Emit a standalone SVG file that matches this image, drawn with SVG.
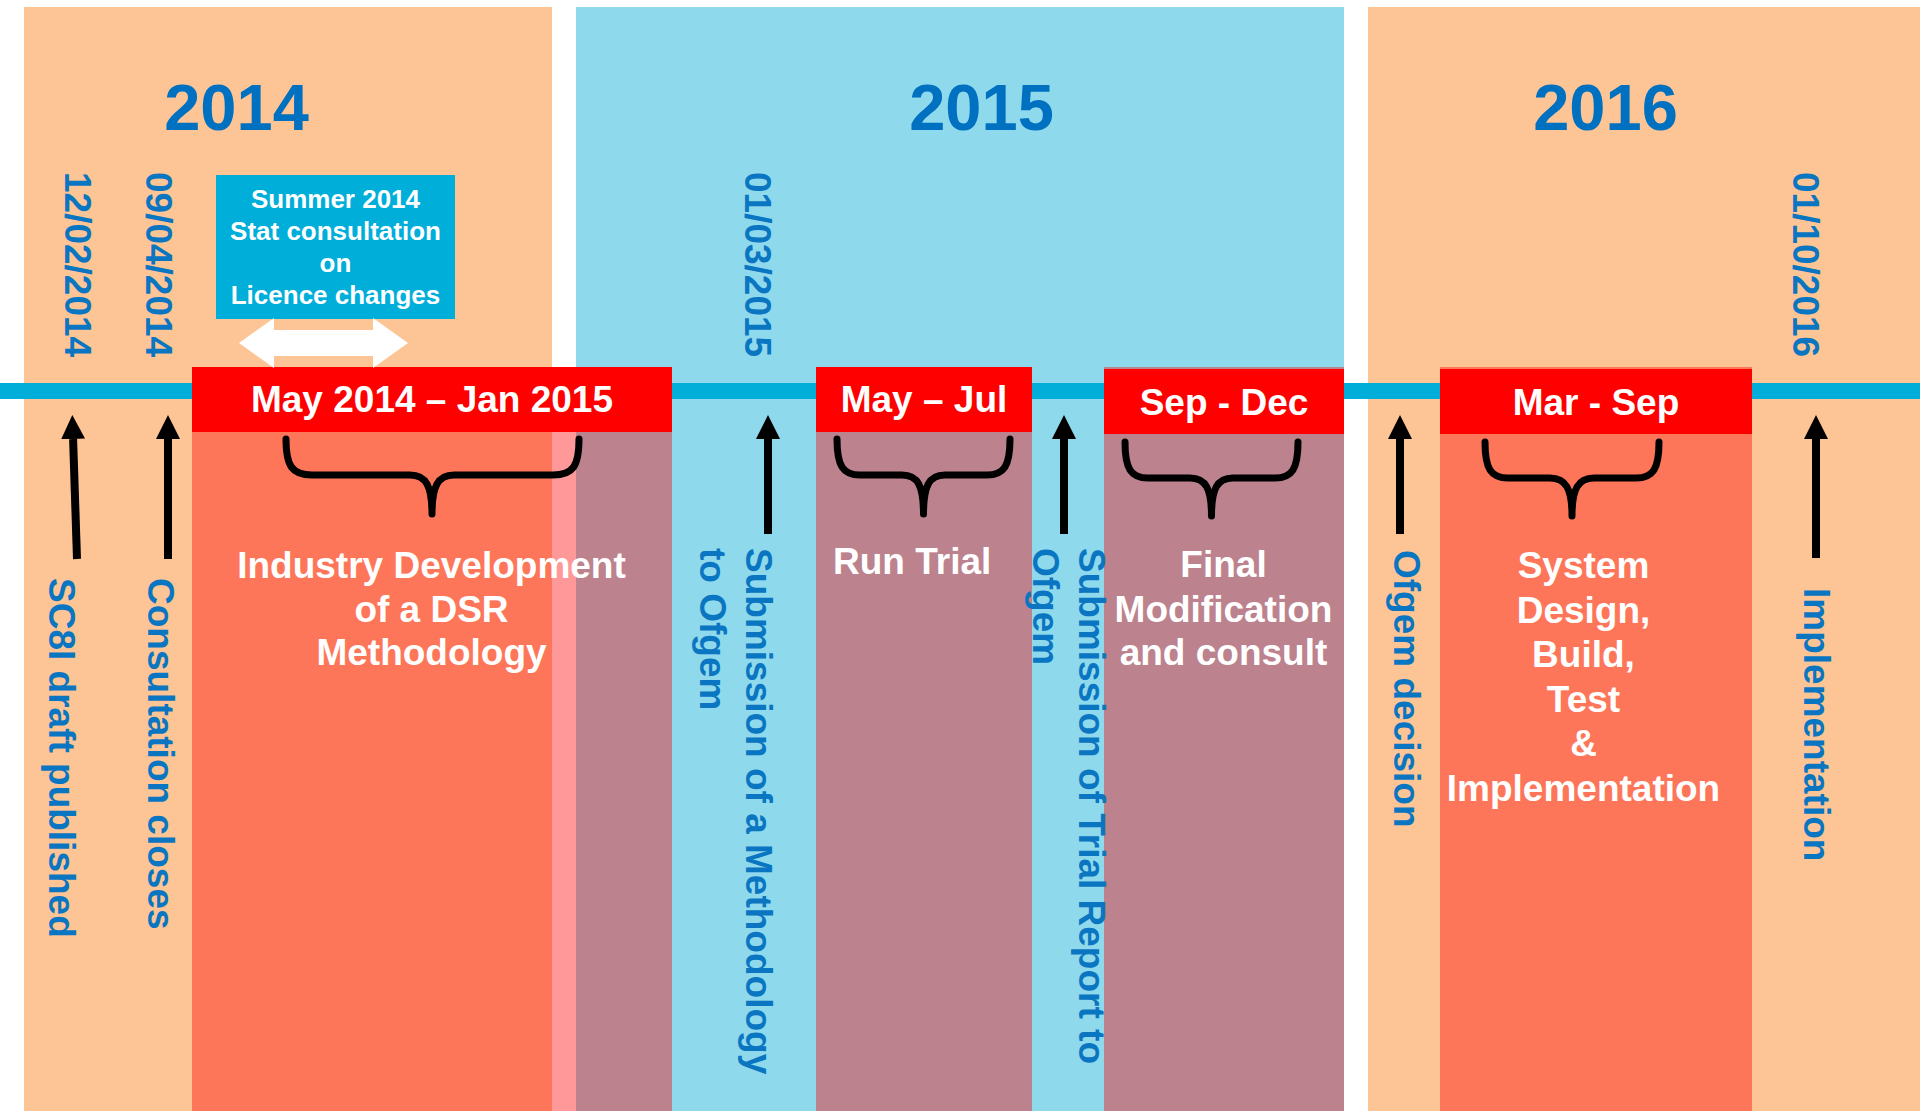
<svg xmlns="http://www.w3.org/2000/svg" width="1920" height="1111" viewBox="0 0 1920 1111">
  <defs>
    <style>
      .panel-or { fill: #FDC595; }
      .panel-bl { fill: #8FD9ED; }
      .overlay { fill: #FF0000; fill-opacity: 0.4; }
      .redbox { fill: #FF0000; }
      .year { font-family: "Liberation Sans", Arial, sans-serif; font-weight: bold; font-size: 65px; fill: #0070C0; text-anchor: middle; }
      .vlabel { font-family: "Liberation Sans", Arial, sans-serif; font-weight: bold; font-size: 37px; fill: #0A76C1; }
      .wtext { font-family: "Liberation Sans", Arial, sans-serif; font-weight: bold; font-size: 37px; fill: #FFFFFF; text-anchor: middle; }
      .stext { font-family: "Liberation Sans", Arial, sans-serif; font-weight: bold; font-size: 26px; fill: #FFFFFF; text-anchor: middle; }
      .arrow { stroke: #000000; stroke-width: 8; fill: none; marker-end: url(#head); }
      .brace { stroke: #000000; stroke-width: 7; fill: none; stroke-linecap: round; stroke-linejoin: round; }
    </style>
    <marker id="head" markerUnits="userSpaceOnUse" markerWidth="24" markerHeight="24" refX="0" refY="12" orient="auto" viewBox="0 0 24 24">
      <path d="M0,0 L24,12 L0,24 z" fill="#000000"/>
    </marker>
  </defs>

  <rect width="1920" height="1111" fill="#FFFFFF"/>

  <g id="panels">
    <rect id="panel-2014" class="panel-or" x="24" y="7" width="528" height="1104"/>
    <rect id="panel-2015" class="panel-bl" x="576" y="7" width="768" height="1104"/>
    <rect id="panel-2016" class="panel-or" x="1368" y="7" width="552" height="1104"/>
  </g>

  <g id="years">
    <text class="year" x="236.5" y="130">2014</text>
    <text class="year" x="981.5" y="130">2015</text>
    <text class="year" x="1605.5" y="130">2016</text>
  </g>

  <rect id="timeline" x="0" y="383" width="1920" height="16" fill="#00AED9"/>

  <g id="phase-1">
    <rect class="overlay" x="192" y="367" width="480" height="744"/>
    <rect class="redbox" x="192" y="367" width="480" height="65"/>
    <text class="wtext" x="432" y="412">May 2014 – Jan 2015</text>
    <text class="wtext" x="431.5" y="578">Industry Development</text>
    <text class="wtext" x="431.5" y="622">of a DSR</text>
    <text class="wtext" x="431.5" y="665">Methodology</text>
  </g>

  <g id="phase-2">
    <rect class="overlay" x="816" y="367" width="216" height="744"/>
    <rect class="redbox" x="816" y="367" width="216" height="65"/>
    <text class="wtext" x="924" y="412">May – Jul</text>
    <text class="wtext" x="833" y="574" style="text-anchor:start">Run Trial</text>
  </g>

  <g id="phase-3">
    <rect class="overlay" x="1104" y="367" width="240" height="744"/>
    <rect class="redbox" x="1104" y="369" width="240" height="65"/>
    <text class="wtext" x="1224" y="415">Sep - Dec</text>
    <text class="wtext" x="1223.5" y="577">Final</text>
    <text class="wtext" x="1223.5" y="622">Modification</text>
    <text class="wtext" x="1223.5" y="665">and consult</text>
  </g>

  <g id="phase-4">
    <rect class="overlay" x="1440" y="367" width="312" height="744"/>
    <rect class="redbox" x="1440" y="369" width="312" height="65"/>
    <text class="wtext" x="1596" y="415">Mar - Sep</text>
    <text class="wtext" x="1583.5" y="578">System</text>
    <text class="wtext" x="1583.5" y="622.6">Design,</text>
    <text class="wtext" x="1583.5" y="667.2">Build,</text>
    <text class="wtext" x="1583.5" y="711.8">Test</text>
    <text class="wtext" x="1583.5" y="756.4">&amp;</text>
    <text class="wtext" x="1583.5" y="801">Implementation</text>
  </g>

  <g id="summer-consultation">
    <rect x="216" y="175" width="239" height="144" fill="#00AEDA"/>
    <text class="stext" x="335.5" y="208">Summer 2014</text>
    <text class="stext" x="335.5" y="240">Stat consultation</text>
    <text class="stext" x="335.5" y="272">on</text>
    <text class="stext" x="335.5" y="304">Licence changes</text>
    <polygon points="239,343 274,318 274,330 373,330 373,318 408,343 373,368 373,356 274,356 274,368" fill="#FFFFFF"/>
  </g>

  <g id="dates">
    <text class="vlabel" transform="translate(65,172) rotate(90)">12/02/2014</text>
    <text class="vlabel" transform="translate(146,172) rotate(90)">09/04/2014</text>
    <text class="vlabel" transform="translate(745,172) rotate(90)">01/03/2015</text>
    <text class="vlabel" transform="translate(1793,172) rotate(90)">01/10/2016</text>
  </g>

  <g id="milestones">
    <text class="vlabel" transform="translate(48.5,578) rotate(90)">SC8I draft published</text>
    <text class="vlabel" transform="translate(147.5,578) rotate(90)">Consultation closes</text>
    <text class="vlabel" transform="translate(746,548) rotate(90)"><tspan x="0" y="0">Submission of a Methodology</tspan><tspan x="0" y="46">to Ofgem</tspan></text>
    <text class="vlabel" transform="translate(1078.5,548) rotate(90)"><tspan x="0" y="0">Submission of Trial Report to</tspan><tspan x="0" y="45.5">Ofgem</tspan></text>
    <text class="vlabel" transform="translate(1394,550) rotate(90)">Ofgem decision</text>
    <text class="vlabel" transform="translate(1804,588) rotate(90)">Implementation</text>
  </g>

  <g id="connectors">
    <line class="arrow" x1="77" y1="559" x2="73.1" y2="439"/>
    <line class="arrow" x1="168" y1="559" x2="168" y2="439"/>
    <line class="arrow" x1="768" y1="534" x2="768" y2="439"/>
    <line class="arrow" x1="1064" y1="534" x2="1064" y2="439"/>
    <line class="arrow" x1="1400" y1="534" x2="1400" y2="439"/>
    <line class="arrow" x1="1816" y1="558" x2="1816" y2="439"/>
    <path class="brace" d="M286,439 C286,466 292,475 312,475 L410,475 C426,475 432,486 432,514 C432,486 438,475 454,475 L553,475 C573,475 579,466 579,439"/>
    <path class="brace" d="M837,439 C837,466 843,475 860,475 L902,475 C918,475 923.5,486 923.5,514 C923.5,486 929,475 945,475 L987,475 C1004,475 1010,466 1010,439"/>
    <path class="brace" d="M1125,442 C1125,469 1131,478 1148,478 L1190,478 C1206,478 1211.5,489 1211.5,516 C1211.5,489 1217,478 1233,478 L1275,478 C1292,478 1298,469 1298,442"/>
    <path class="brace" d="M1485,442 C1485,469 1491,478 1508,478 L1550,478 C1566,478 1572,489 1572,516 C1572,489 1578,478 1594,478 L1636,478 C1653,478 1659,469 1659,442"/>
  </g>
</svg>
